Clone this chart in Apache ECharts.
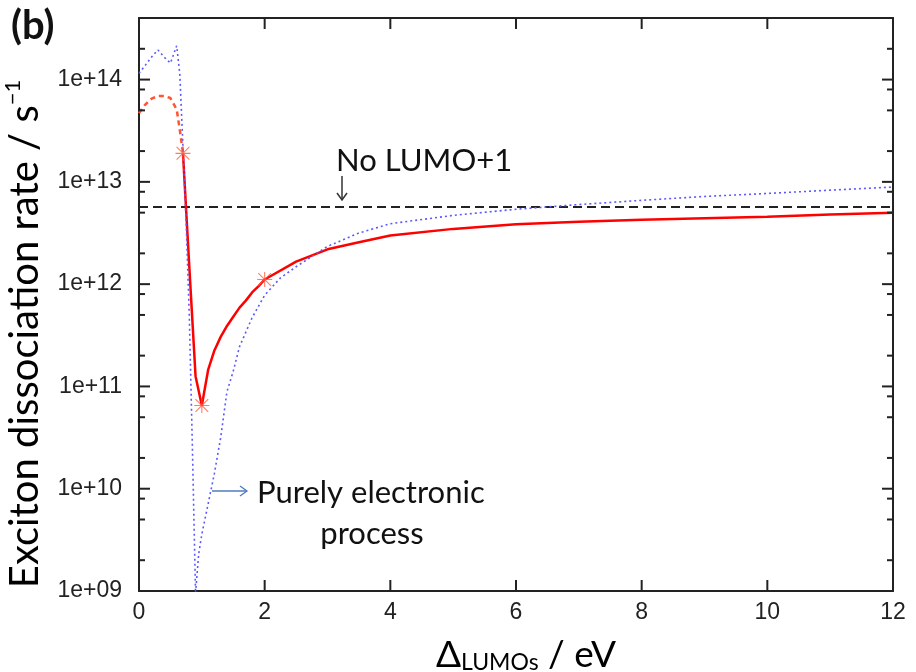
<!DOCTYPE html>
<html>
<head>
<meta charset="utf-8">
<script src="https://cdn.jsdelivr.net/npm/echarts@6/dist/echarts.min.js"></script>
<style>html,body{margin:0;padding:0;background:#fff}#c{width:916px;height:672px}</style>
</head>
<body>
<div id="c"></div>
<script>
// ---- data ----
const redDashX = [0, 0.1, 0.2, 0.3, 0.4, 0.5, 0.6, 0.65, 0.7];
const redDashY = [4.7e13, 5.7e13, 6.5e13, 6.9e13, 6.9e13, 6.6e13, 5.1e13, 3.2e13, 1.9e13];

const redX = [0.7, 0.8, 0.9, 1.0, 1.1, 1.2, 1.3, 1.4, 1.5, 1.6, 1.7, 1.8, 1.9, 2.0, 2.5, 3.0, 3.5, 4.0, 5, 6, 7, 8, 9, 10, 11, 12];
const redY = [1.9e13, 1.5e12, 1.26e11, 6.5e10, 1.45e11, 2.25e11, 3.05e11, 3.9e11, 4.8e11, 5.9e11, 6.9e11, 8.3e11, 9.5e11, 1.11e12,
              1.66e12, 2.19e12, 2.57e12, 2.99e12, 3.47e12, 3.85e12, 4.07e12, 4.27e12, 4.42e12, 4.57e12, 4.79e12, 5.0e12];

const blueX = [0, 0.1, 0.2, 0.3, 0.4, 0.5, 0.6, 0.65, 0.7, 0.75, 0.8, 0.85, 0.9, 0.95, 1.0, 1.1, 1.2, 1.3, 1.4, 1.5, 1.6, 1.8,
               2.0, 2.25, 2.5, 3.0, 3.5, 4.0, 5, 6, 7, 8, 9, 10, 11, 12];
const blueY = [1.15e14, 1.38e14, 1.66e14, 1.95e14, 1.66e14, 1.45e14, 2.14e14, 1.12e14, 2.19e13, 4.0e12, 5.0e11, 2.5e10, 9.5e8,
               2.3e9, 3.6e9, 7.1e9, 1.41e10, 3.16e10, 8.9e10, 1.41e11, 2.45e11, 4.7e11, 7.8e11, 1.15e12, 1.48e12, 2.34e12,
               3.16e12, 3.9e12, 4.7e12, 5.4e12, 6.0e12, 6.6e12, 7.2e12, 7.7e12, 8.3e12, 8.9e12];

const noLumoLevel = 5.67e12;

const starX = [0.7, 1.0, 2.0];
const starY = [1.9e13, 6.5e10, 1.11e12];

const xTicks = [0, 2, 4, 6, 8, 10, 12];
const xTickLabels = ['0', '2', '4', '6', '8', '10', '12'];
const yTicks = [1e9, 1e10, 1e11, 1e12, 1e13, 1e14];
const yTickLabels = ['1e+09', '1e+10', '1e+11', '1e+12', '1e+13', '1e+14'];
const yMinorMult = [2, 5, 8];

// ---- build ----
const zip = (xs, ys) => xs.map((x, i) => [x, ys[i]]);
const yMin = 1e9, yMax = 4e14, xMin = 0, xMax = 12;
const majorLen = 11, minorLen = 6;
const tickItems = [];   // [x, y, kind]  kind: 0 = y-major, 1 = y-minor, 2 = x-major
yTicks.forEach(v => tickItems.push([xMin, v, 0]));
yTicks.forEach(v => yMinorMult.forEach(m => { const mv = m * v; if (mv < yMax) tickItems.push([xMin, mv, 1]); }));
xTicks.forEach(x => { if (x > xMin && x < xMax) tickItems.push([x, yMin, 2]); });

const axisCol = '#222';
const tickFont = 'Liberation Sans';
const txtFont = 'Lato';

const yFmt = v => {
  const e = Math.log10(v); const r = Math.round(e);
  if (Math.abs(e - r) < 1e-6 && r >= 9 && r <= 14) return yTickLabels[r - 9];
  return '';
};
const xFmt = v => { const i = xTicks.indexOf(Math.round(v * 1000) / 1000); return i >= 0 ? xTickLabels[i] : ''; };

const starPath = 'path://M0,9.3L20,9.3L20,10.7L0,10.7Z M9.3,0L10.7,0L10.7,20L9.3,20Z M1,2L2,1L19,18L18,19Z M18,1L19,2L2,19L1,18Z';

const baseY = {
  type: 'log', logBase: 10, min: yMin, max: yMax,
  axisLine: { show: true, onZero: false, lineStyle: { color: axisCol, width: 2 } },
  axisTick: { show: false },
  splitLine: { show: false }, minorTick: { show: false }
};
const baseX = {
  type: 'value', min: xMin, max: xMax, interval: 2,
  axisLine: { show: true, onZero: false, lineStyle: { color: axisCol, width: 2 } },
  axisTick: { show: false },
  splitLine: { show: false }
};

const chart = echarts.init(document.getElementById('c'), null, { renderer: 'canvas' });
chart.setOption({
  animation: false,
  backgroundColor: '#fff',
  grid: { left: 139, right: 23, top: 18, bottom: 81, containLabel: false },
  xAxis: [
    Object.assign({}, baseX, { position: 'bottom',
      axisLabel: { show: true, formatter: xFmt, fontFamily: tickFont, fontSize: 23, color: '#222', margin: 10,
                   showMinLabel: true, showMaxLabel: true } }),
    Object.assign({}, baseX, { position: 'top', axisLabel: { show: false } })
  ],
  yAxis: [
    Object.assign({}, baseY, { position: 'left',
      axisLabel: { show: true, formatter: yFmt, fontFamily: tickFont, fontSize: 23, color: '#222', margin: 17 } }),
    Object.assign({}, baseY, { position: 'right', axisLabel: { show: false } })
  ],
  series: [
    { type: 'custom', coordinateSystem: 'cartesian2d', data: tickItems, encode: { x: 0, y: 1 }, silent: true, z: 10, clip: false,
      renderItem: (params, api) => {
        const kind = api.value(2);
        const st = { stroke: axisCol, lineWidth: 2 };
        if (kind === 2) {
          const b = api.coord([api.value(0), yMin]); const t = api.coord([api.value(0), yMax]);
          return { type: 'group', children: [
            { type: 'line', shape: { x1: b[0], y1: b[1], x2: b[0], y2: b[1] - majorLen }, style: st },
            { type: 'line', shape: { x1: t[0], y1: t[1], x2: t[0], y2: t[1] + majorLen }, style: st }
          ] };
        }
        const len = kind === 0 ? majorLen : minorLen;
        const v = api.value(1);
        const l = api.coord([xMin, v]); const r = api.coord([xMax, v]);
        return { type: 'group', children: [
          { type: 'line', shape: { x1: l[0], y1: l[1], x2: l[0] + len, y2: l[1] }, style: st },
          { type: 'line', shape: { x1: r[0], y1: r[1], x2: r[0] - len, y2: r[1] }, style: st }
        ] };
      } },
    { name: 'noLumo', type: 'line', data: [[xMin, noLumoLevel], [xMax, noLumoLevel]], symbol: 'none', z: 2,
      lineStyle: { color: '#222', width: 2, type: [9, 5] } },
    { name: 'redDash', type: 'line', data: zip(redDashX, redDashY), symbol: 'none', z: 3,
      lineStyle: { color: '#ff5533', width: 2.5, type: [5, 4] } },
    { name: 'red', type: 'line', data: zip(redX, redY), symbol: 'none', z: 3,
      lineStyle: { color: '#ff0000', width: 2.5 } },
    { name: 'blue', type: 'line', data: zip(blueX, blueY), symbol: 'none', z: 4,
      lineStyle: { color: '#5a5aff', width: 1.6, type: [2, 3] } },
    { name: 'stars', type: 'scatter', data: zip(starX, starY), symbol: starPath, symbolSize: 15, z: 6,
      itemStyle: { color: '#ff5a3c' } }
  ],
  graphic: [
    { type: 'text', left: 11, top: 6, style: { text: '(b)', font: 'bold 40px Lato', fill: '#111' } },
    { type: 'text', x: 25, y: 334, rotation: Math.PI / 2,
      style: { text: '{a|Exciton dissociation rate / s}{s|−1}', align: 'center', verticalAlign: 'middle',
        rich: { a: { fontFamily: txtFont, fontSize: 40, color: '#111', lineHeight: 46 },
                s: { fontFamily: txtFont, fontSize: 22, color: '#111', verticalAlign: 'top', lineHeight: 46 } } } },
    { type: 'text', x: 526, y: 652,
      style: { text: '{a|Δ}{b|LUMOs}{a| / eV}', align: 'center', verticalAlign: 'middle',
        rich: { a: { fontFamily: txtFont, fontSize: 37, color: '#111', lineHeight: 44, verticalAlign: 'bottom' },
                b: { fontFamily: txtFont, fontSize: 23, color: '#111', lineHeight: 44, verticalAlign: 'bottom' } } } },
    { type: 'text', x: 336, y: 161, style: { text: 'No LUMO+1', font: '31px Lato', fill: '#111', verticalAlign: 'middle' } },
    { type: 'polyline', shape: { points: [[342, 176], [342, 200]] }, style: { stroke: '#333', lineWidth: 1.5, fill: null } },
    { type: 'polyline', shape: { points: [[337, 193], [342, 200], [347, 193]] }, style: { stroke: '#333', lineWidth: 1.5, fill: null } },
    { type: 'polyline', shape: { points: [[212, 491], [247, 491]] }, style: { stroke: '#4f7bbd', lineWidth: 1.3, fill: null } },
    { type: 'polyline', shape: { points: [[240, 486], [247, 491], [240, 496]] }, style: { stroke: '#4f7bbd', lineWidth: 1.3, fill: null } },
    { type: 'text', x: 257, y: 493, style: { text: 'Purely electronic', font: '31px Lato', fill: '#111', verticalAlign: 'middle' } },
    { type: 'text', x: 372, y: 534, style: { text: 'process', font: '31px Lato', fill: '#111', align: 'center', verticalAlign: 'middle' } }
  ]
});
</script>
</body>
</html>
